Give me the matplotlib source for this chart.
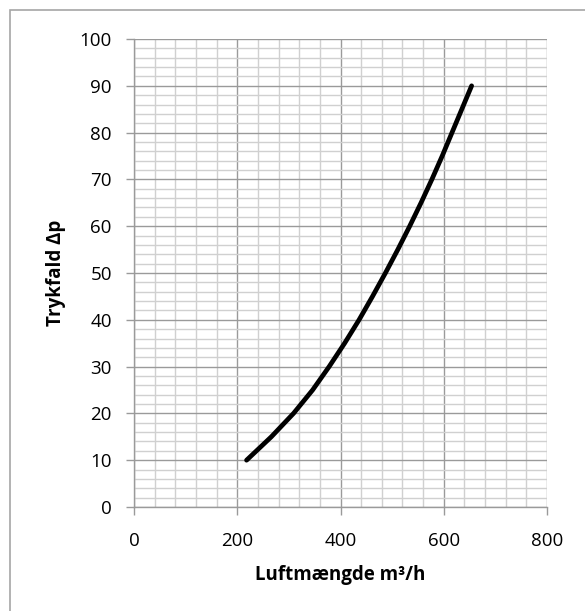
import matplotlib.pyplot as plt
from matplotlib.patches import Rectangle
from matplotlib.ticker import MultipleLocator

# airflow (m3/h) vs pressure drop
luftmaengde = [218, 266, 309, 346, 378, 408, 436, 462, 487, 511, 534, 556, 577, 597, 616, 635, 654]
trykfald = [10, 15, 20, 25, 30, 35, 40, 45, 50, 55, 60, 65, 70, 75, 80, 85, 90]

fonts = ['Open Sans', 'DejaVu Sans']
plt.rcParams['font.family'] = fonts

fig = plt.figure(figsize=(5.85, 6.11), dpi=100)
ax = fig.add_axes([134/585, 1-507/611, 413/585, 468/611])

# outer chart border (cut off at right and bottom like the original)
fig.patches.append(Rectangle((10/585, -0.05), 1.0, 1-10/611+0.05,
                             transform=fig.transFigure, fill=False,
                             edgecolor='#a6a6a6', lw=1.2))

ax.plot(luftmaengde, trykfald, color='black', lw=3.4, solid_capstyle='round', zorder=3)

ax.set_xlim(0, 800)
ax.set_ylim(0, 100)
ax.xaxis.set_major_locator(MultipleLocator(200))
ax.xaxis.set_minor_locator(MultipleLocator(40))
ax.yaxis.set_major_locator(MultipleLocator(10))
ax.yaxis.set_minor_locator(MultipleLocator(2))

ax.grid(which='minor', color='#d0d0d0', lw=1.0)
ax.grid(which='major', color='#9a9a9a', lw=1.0)
ax.set_axisbelow(True)

for s in ['top', 'right']:
    ax.spines[s].set_visible(False)
for s in ['left', 'bottom']:
    ax.spines[s].set_color('#9a9a9a')
    ax.spines[s].set_linewidth(1.0)

ax.tick_params(which='major', length=6, width=1.0, color='#9a9a9a', labelsize=13.5, labelcolor='black')
ax.tick_params(axis='y', pad=10)
ax.tick_params(axis='x', pad=12)
ax.tick_params(which='minor', length=0)

ax.set_xlabel('Luftmængde m³/h', fontsize=13.5, fontweight='bold', labelpad=11)
ax.set_ylabel('Trykfald Δp', fontsize=13.5, fontweight='bold', labelpad=10)

fig.savefig('out.png', dpi=100)
